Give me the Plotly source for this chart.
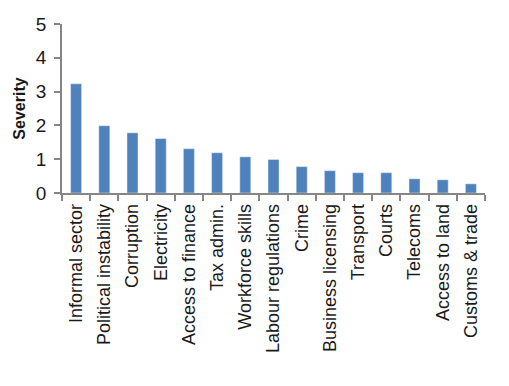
import plotly.graph_objects as go

categories = ["Informal sector", "Political instability", "Corruption", "Electricity",
              "Access to finance", "Tax admin.", "Workforce skills", "Labour regulations",
              "Crime", "Business licensing", "Transport", "Courts", "Telecoms",
              "Access to land", "Customs & trade"]
severity = [3.23, 1.99, 1.78, 1.61, 1.31, 1.19, 1.07, 0.99, 0.78, 0.66, 0.60, 0.60, 0.42, 0.39, 0.27]
y_ticks = [0, 1, 2, 3, 4, 5]

font_family = "Liberation Sans, Arial, sans-serif"
axis_color = "#868686"

fig = go.Figure(go.Bar(x=categories, y=severity, marker_color="#4f81bd", width=0.39))

# the page body adds an 8px offset; margins compensate so the plot area
# lands at x 62..485, y 24..193 in the window
fig.update_layout(
    width=509, height=386,
    margin=dict(l=54, r=32, t=16, b=201),
    paper_bgcolor="white", plot_bgcolor="white",
    showlegend=False,
    font=dict(family=font_family, color="#1a1a1a", size=15),
)
fig.update_xaxes(
    type="category", showline=True, linecolor=axis_color, linewidth=1.5,
    ticks="outside", tickson="boundaries", ticklen=6, tickcolor=axis_color, tickwidth=1.5,
    tickangle=-90, tickfont=dict(size=18), showgrid=False, automargin=False,
    ticklabelstandoff=2,
)
fig.update_yaxes(
    range=[0, 5], tickvals=y_ticks, showline=True, linecolor=axis_color, linewidth=1.5,
    ticks="outside", ticklen=6, tickcolor=axis_color, tickwidth=1.5,
    tickfont=dict(size=19), showgrid=False, zeroline=False, automargin=False,
    ticklabelstandoff=4,
    title=dict(text="<b>Severity</b>", font=dict(size=16), standoff=6),
)

fig.write_html("out.html")
